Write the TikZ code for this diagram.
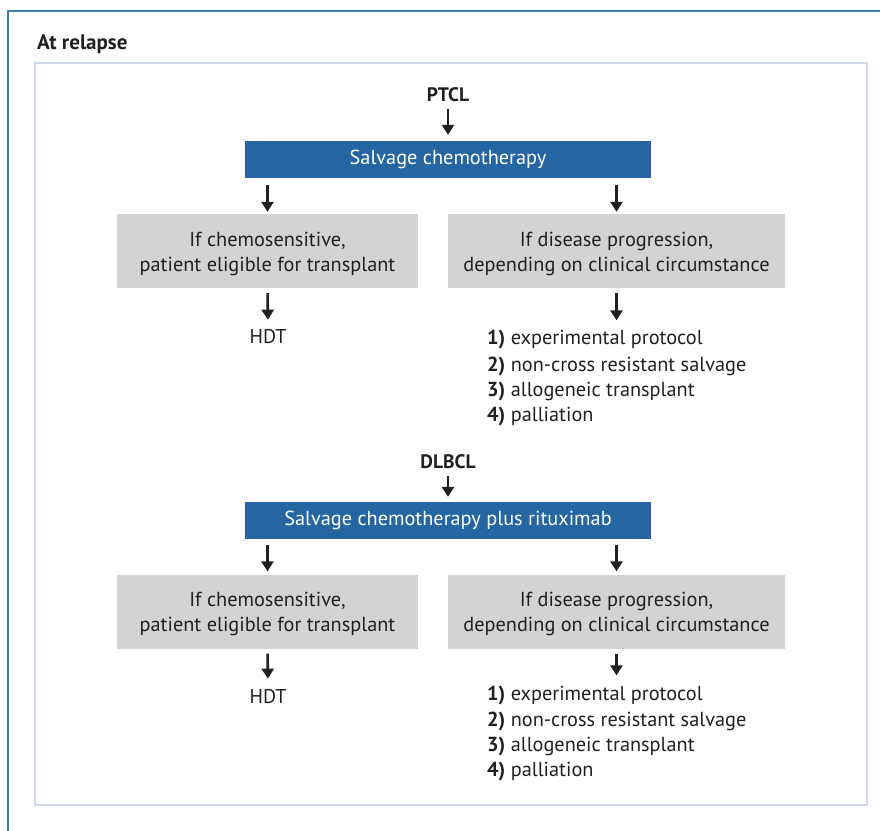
\documentclass[tikz,border=0pt]{standalone}
\usepackage{fontspec}
\setmainfont{PT Sans}
\usetikzlibrary{arrows.meta}
\definecolor{frameblue}{RGB}{62,125,168}
\definecolor{innerline}{RGB}{208,217,234}
\definecolor{boxblue}{RGB}{37,102,162}
\definecolor{boxgray}{RGB}{211,211,213}
\definecolor{ink}{RGB}{35,31,32}
\newcommand{\toppad}{\rule{0pt}{20pt}}
\begin{document}
\begin{tikzpicture}[x=1pt,y=-1pt,
  bluebox/.style={fill=boxblue,text=white,minimum width=406pt,minimum height=37pt,inner sep=0pt,font=\fontsize{20.3}{25}\selectfont},
  graybox/.style={fill=boxgray,text=ink,minimum height=74pt,inner sep=0pt,align=center,font=\fontsize{20.3}{25}\selectfont},
  lbl/.style={text=ink,font=\fontsize{20}{24}\selectfont,inner sep=0pt},
  item/.style={text=ink,font=\fontsize{20.3}{24}\selectfont,inner sep=0pt,anchor=west},
  head/.style={text=ink,font=\bfseries\fontsize{19.5}{24}\selectfont,inner sep=0pt},
  arr/.style={draw=ink,line width=2.6pt,-{Triangle[length=10pt,width=12pt]}},
]
\useasboundingbox (0,0) rectangle (880,830);
\fill[white] (0,0) rectangle (880,830);
\draw[frameblue,line width=1.6pt] (8,832) -- (8,11) -- (882,11);
\draw[innerline,line width=2.6pt] (35,63) rectangle (867,805);
\node[head,font=\bfseries\fontsize{21}{24}\selectfont,anchor=base west] (title) at (37,49) {At relapse};

% PTCL block
\node[head] (ptcl) at (448,95) {PTCL};
\node[bluebox,text depth=4pt] (s1) at (448,159.5) {Salvage chemotherapy};
\node[graybox,minimum width=301pt] (c1) at (267.5,251) {\toppad If chemosensitive,\\patient eligible for transplant};
\node[graybox,minimum width=337pt] (p1) at (616.5,251) {\toppad If disease progression,\\depending on clinical circumstance};
\node[lbl] (h1) at (268,337) {HDT};
\node[item] (a1) at (487,340) {\textbf{1)} experimental protocol};
\node[item] (a2) at (487,366) {\textbf{2)} non-cross resistant salvage};
\node[item] (a3) at (487,391) {\textbf{3)} allogeneic transplant};
\node[item] (a4) at (487,416) {\textbf{4)} palliation};

\draw[arr,shorten <=7pt,shorten >=6pt] (ptcl) -- (s1);
\draw[arr,shorten <=7pt,shorten >=2pt] (s1.south -| c1.north) -- (c1.north);
\draw[arr,shorten <=7pt,shorten >=2pt] (s1.south -| p1.north) -- (p1.north);
\draw[arr,shorten <=5pt,shorten >=10pt] (c1.south) -- (h1.north);
\draw[arr,shorten <=5pt,shorten >=10pt] (p1.south) -- (p1.south |- a1.north);

% DLBCL block
\node[head] (dlbcl) at (448,462) {DLBCL};
\node[bluebox,text depth=4pt] (s2) at (448,520.5) {Salvage chemotherapy plus rituximab};
\node[graybox,minimum width=301pt] (c2) at (267.5,611.5) {\toppad If chemosensitive,\\patient eligible for transplant};
\node[graybox,minimum width=337pt] (p2) at (616.5,611.5) {\toppad If disease progression,\\depending on clinical circumstance};
\node[lbl] (h2) at (268,696) {HDT};
\node[item] (b1) at (487,695) {\textbf{1)} experimental protocol};
\node[item] (b2) at (487,721) {\textbf{2)} non-cross resistant salvage};
\node[item] (b3) at (487,746) {\textbf{3)} allogeneic transplant};
\node[item] (b4) at (487,771) {\textbf{4)} palliation};

\draw[arr,shorten <=7pt,shorten >=5pt] (dlbcl) -- (s2);
\draw[arr,shorten <=6pt,shorten >=3pt] (s2.south -| c2.north) -- (c2.north);
\draw[arr,shorten <=6pt,shorten >=3pt] (s2.south -| p2.north) -- (p2.north);
\draw[arr,shorten <=5pt,shorten >=10pt] (c2.south) -- (h2.north);
\draw[arr,shorten <=5pt,shorten >=10pt] (p2.south) -- (p2.south |- b1.north);
\end{tikzpicture}
\end{document}
